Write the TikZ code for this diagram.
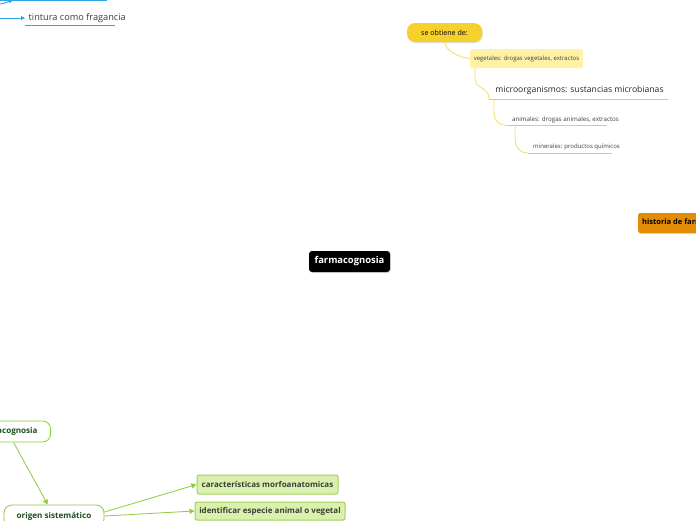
\documentclass[tikz,border=0pt]{standalone}
\usepackage{fontspec}
\setmainfont{Open Sans}
\usetikzlibrary{arrows.meta,shadows}
\definecolor{blueln}{HTML}{2CA6E8}
\definecolor{gold}{HTML}{F7D12B}
\definecolor{paleyel}{HTML}{FFF2A6}
\definecolor{yelln}{HTML}{F4D21C}
\definecolor{yellc}{HTML}{F6DD5A}
\definecolor{mineln}{HTML}{D2E48F}
\definecolor{orng}{HTML}{E38C05}
\definecolor{grnln}{HTML}{8CCB3C}
\definecolor{grnfill}{HTML}{DBF0AE}
\definecolor{grnbord}{HTML}{A2D155}
\definecolor{darkgrn}{HTML}{1F4F1F}
\definecolor{darktxt}{HTML}{3A3F35}
\tikzset{
  x=1pt,y=-1pt,
  shad/.style={drop shadow={opacity=0.25,shadow xshift=0.8pt,shadow yshift=-1pt}},
  goldbox/.style={shad,fill=gold,rounded corners=8pt,minimum width=75pt,minimum height=19pt,inner sep=0pt,font=\fontsize{7.1}{8}\selectfont},
  palebox/.style={fill=paleyel,rounded corners=2pt,minimum width=113pt,minimum height=19pt,inner sep=0pt,font=\fontsize{6}{7}\selectfont,text=darktxt},
  plaintext/.style={inner sep=0pt,text=darktxt},
  orbox/.style={shad,fill=orng,rounded corners=2pt,minimum height=20pt,inner xsep=4pt,anchor=west,font=\bfseries\fontsize{7.5}{8}\selectfont},
  blackbox/.style={shad,fill=black,text=white,rounded corners=3pt,minimum width=81pt,minimum height=21pt,inner sep=0pt,font=\bfseries\fontsize{9.4}{10}\selectfont},
  wbox/.style={draw=grnln,line width=0.8pt,fill=white,rounded corners=8pt,inner sep=0pt,text=darkgrn,font=\bfseries\fontsize{8.1}{9}\selectfont},
  gbox/.style={draw=grnbord,line width=1pt,fill=grnfill,rounded corners=2pt,inner sep=0pt,text=darktxt,font=\bfseries\fontsize{8}{9}\selectfont},
  garrow/.style={draw=grnln,line width=0.8pt,-{Triangle[length=5pt,width=5pt]}},
  barrow/.style={draw=blueln,line width=0.9pt,-{Triangle[length=4pt,width=4pt]}},
}
\begin{document}
\begin{tikzpicture}
\useasboundingbox (0,0) rectangle (696,520);
\clip (0,0) rectangle (696,520);
% ---- top left (blue) ----
\coordinate (tl0) at (0,0.6);
\coordinate (tl1) at (107,0.6);
\draw[blueln,line width=0.9pt] (tl0) -- (tl1);
\coordinate (tc0) at (0,4);
\coordinate (tc1) at (13,0.6);
\draw[barrow] (tc0) .. controls (6,3.5) and (9,1) .. (tc1);
\node[plaintext,anchor=west,font=\fontsize{9.2}{11}\selectfont] (tint) at (28.5,18) {tintura como fragancia};
\coordinate (ta0) at (0,18);
\coordinate (ta1) at (25,18);
\draw[barrow] (ta0) -- (ta1);
\coordinate (tu0) at (25,25.5);
\coordinate (tu1) at (115,25.5);
\draw[blueln,line width=0.9pt] (tu0) -- (tu1);
% ---- yellow branch ----
\node[goldbox] (obt) at (444.5,32.5) {se obtiene de:};
\node[palebox] (veg) at (526.5,58.5) {vegetales: drogas vegetales, extractos};
\draw[yellc,line width=0.8pt] (obt.south) .. controls (446,52) and (462,58) .. (veg.west);
\node[plaintext,font=\fontsize{8.6}{10}\selectfont,text=black!85] (micro) at (579.5,90) {microorganismos: sustancias microbianas};
\coordinate (mu0) at (489,99);
\coordinate (mu1) at (668,99);
\draw[yelln,line width=1pt] (mu0) -- (mu1);
\coordinate (vb) at (475,68);
\draw[yellc,line width=0.8pt] (vb) -- (475,78) .. controls (475,90) and (489,86) .. (mu0);
\node[plaintext,font=\fontsize{6.2}{7}\selectfont] (anim) at (565.5,120) {animales: drogas animales, extractos};
\coordinate (au0) at (507,125.5);
\coordinate (au1) at (607,125.5);
\draw[yelln,line width=1pt] (au0) -- (au1);
\coordinate (ab) at (494,99);
\draw[yellc,line width=0.8pt] (ab) -- (494,111) .. controls (494,122) and (500,125.5) .. (au0);
\node[plaintext,font=\fontsize{6}{7}\selectfont] (mine) at (576.5,147) {minerales: productos químicos};
\coordinate (nu0) at (528,153);
\coordinate (nu1) at (612,153);
\draw[yelln,line width=1pt] (nu0) -- (nu1);
\coordinate (nb) at (515,126);
\draw[mineln,line width=0.8pt] (nb) -- (515,137) .. controls (515,149) and (521,153) .. (nu0);
% ---- orange ----
\node[orbox] (hist) at (638,223) {historia de farmacognosia};
% ---- center ----
\node[blackbox] (center) at (349.5,261.5) {farmacognosia};
% ---- bottom left (green) ----
\node[wbox,anchor=east,minimum height=21pt,inner xsep=13pt] (farm2) at (51,431.5) {farmacognosia};
\node[wbox,minimum width=100pt,minimum height=22pt] (origen) at (54,516) {origen sistemático};
\node[gbox,minimum width=141pt,minimum height=19pt] (carac) at (267.5,484.5) {características morfoanatomicas};
\node[gbox,minimum width=150pt,minimum height=18pt] (ident) at (270,511) {identificar especie animal o vegetal};
\draw[garrow] (farm2) -- (origen);
\draw[garrow] (origen.east) ++(0,-4) -- (carac.west);
\draw[garrow] (origen.east) -- (ident.west);
\end{tikzpicture}
\end{document}
